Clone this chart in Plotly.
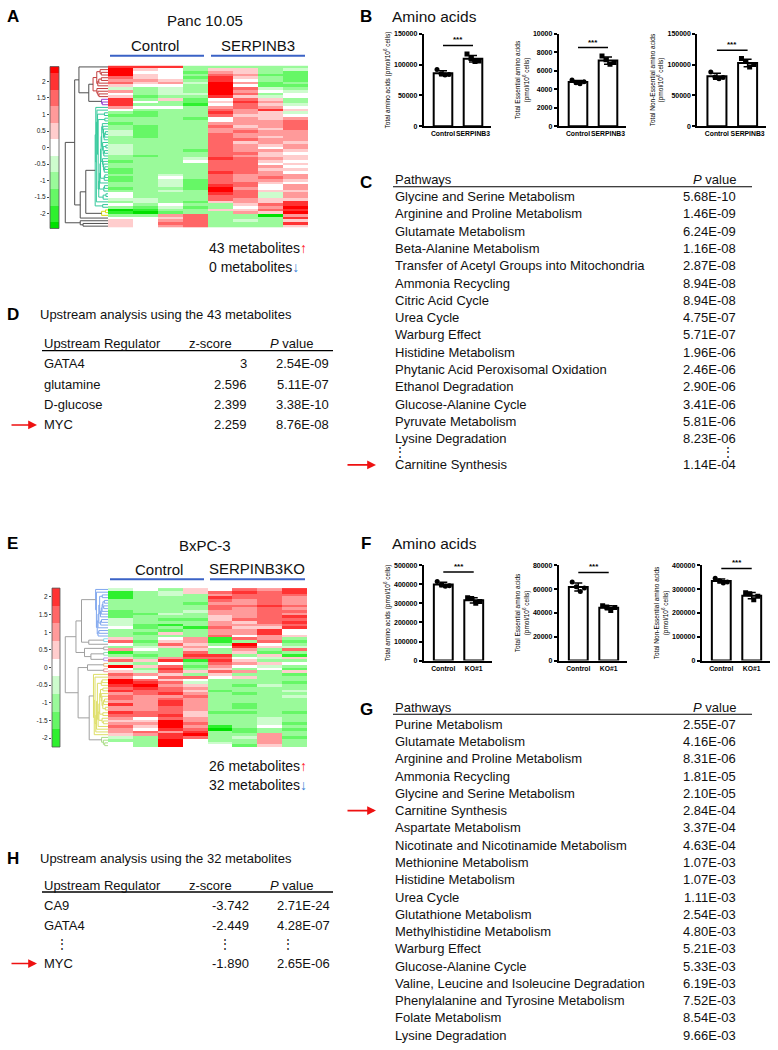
import numpy as np
import plotly.graph_objects as go

W, H = 778, 1050
FONT = "Liberation Sans, Arial, sans-serif"

# ---------------- heatmap z-scores (4 control + 4 test columns) ----------------
panc_z = [
    [2, 2, 2, -1, -1, -1, -1, -1],
    [2.5, 0.5, 0, -1, 0.5, 0.5, -1, -0.5],
    [2.5, 0, 0, -1.5, 1, 0.5, -1, -1.5],
    [2.5, 0.5, 0, -1, 1.5, 1, -1.5, -1.5],
    [1.5, 0.5, 0, -1.5, 2, 0.5, -1, -1.5],
    [1, 1, 0.5, -1, 2, 0, -1, -1.5],
    [1.5, 0.5, 1, -0.5, 2.5, 1, -1.5, -1],
    [0.5, 0, 0, -1, 2.5, 0, -1.5, -1.5],
    [-0.5, -1, -0.5, -1, 2.5, 1.5, -0.5, -1],
    [1, -1, -0.5, -1, 2.5, 1, 0, -0.5],
    [0, -1, -0.5, -0.5, 2.5, 1.5, -1, 0],
    [0.5, -1.5, -1, -1, 2, 0.5, -0.5, 0],
    [2, -1, 0.5, -1.5, 0, 1.5, 0.5, -1],
    [2, 0, -1, -1.5, 0.5, 2, 1, -1],
    [2, -1, -1, -2, 0, 1.5, 0.5, -0.5],
    [1, 0, 0, -1, 1, 1.5, 1, 0],
    [0, -1, -1, -1, 1.5, 1, 2, 0.5],
    [-1, -1.5, -1, -1, 2, 1, 0.5, -0.5],
    [-1.5, -1.5, -1, -1, 1.5, 0.5, 0.5, 0],
    [-1, -1, -1, -1.5, 0, 1, 0.5, 1],
    [-1, -1, -1, -1, 0, 1, 1, 1.5],
    [-1.5, -1, -1, -1, 1, 1, 1, 1.5],
    [-1, -1.5, -1, -1, 1.5, 0.5, 1, 1.5],
    [-1, -1.5, -1, -1, 1, 1, 0.5, 1.5],
    [-0.5, -1.5, -1, -1, 1, 1.5, 1, 1],
    [-0.5, -1.5, -1, -1, 1.5, 1, 1, 1],
    [-1, -1.5, -1, -1, 1.5, 1, 0.5, 1],
    [-1, -1, -1, -1, 1.5, 1.5, 1, 1],
    [-1, -1, -1, -1, 1.5, 0.5, 1, 0.5],
    [-0.5, -1, -1, -1, 1.5, 1, 0.5, 1],
    [-0.5, -1, -1, -1, 1.5, 1, 0, 1],
    [-0.5, -1, -1, -1.5, 1.5, 1, 1, 0.5],
    [-0.5, -1, -1, -1, 1.5, 1.5, 0.5, 0],
    [-1, -1.5, -1, -1, 1.5, 1, 0.5, 0.5],
    [-1, -1, -1, -0.5, 2, 1.5, 1, 0.5],
    [-1.5, -1, -1, 0, 1.5, 1.5, 0.5, 0],
    [-1, -1, -1, -1, 1.5, 1.5, 0, 0.5],
    [-1, -1, -1, -1, 1.5, 1.5, 1, 0],
    [-1.5, -1, -1, -1, 1.5, 1.5, 0.5, 0.5],
    [-1.5, -1, -1, -1, 2, 1.5, 1, 0],
    [-1, -1, -0.5, -1, 1.5, 1, 1, 1],
    [-1.5, -1, 0, -1, 1.5, 1, 1.5, 1],
    [-1.5, -1, -0.5, -1.5, 1.5, 1, 1, 0.5],
    [-1, -1, -0.5, -1.5, 1.5, 1.5, 0.5, 0],
    [-1, -1, -0.5, -1.5, 2, 1.5, 0, 1],
    [-1.5, -1, -1, -1.5, 2.5, 1, 0, 1],
    [-1, -1, -0.5, -1, 2.5, 1.5, 0.5, 0.5],
    [0, -1, -1, -1, 2, 1.5, -0.5, 1],
    [0, -1, -1, -1, 1.5, 1.5, -0.5, 1],
    [-0.5, -0.5, -1, -1, 1.5, 1, 0.5, 0.5],
    [-1, -0.5, -1, -1.5, 0.5, 1, 0.5, 2],
    [0, -1, 0, -1, -1, 0.5, 1.5, 2],
    [-1, -1.5, -0.5, -1.5, -1, 0, 1, 2.5],
    [-2.5, -2, -1, -1, 0.5, 0.5, 1.5, 2],
    [-2, -2.5, -1.5, -1, -1, 1, 0.5, 2.5],
    [-1, -1, 1, 1.5, -1, -1, -2.5, 1],
    [0, 0, 0.5, 1.5, -1, -1, -1, 2],
    [0.5, 0, 1, 1.5, -1, -0.5, -1, 0.5],
    [0.5, 0, 1.5, 1.5, -1, -1, -1, 2],
    [0.5, 0, 1, 1.5, -1, -1, -1, 0.5],
]

bxpc_z = [
    [-0.5, 0, -1, 0.5, 0, 1.5, 1, 2],
    [-2, -1, -0.5, 0.5, 1.5, 2, 1.5, 2],
    [-2, -1, -0.5, -1, 1, 1.5, 1.5, 1.5],
    [-2, -1, -1, -1, 2, 1.5, 1.5, 1],
    [-1, -1, -1, -1, 1.5, 1, 1.5, 1],
    [-1, -1, -1, -1.5, 1, 1, 1.5, 1],
    [-1, -1, -1, -1, 1.5, 1.5, 2, 1.5],
    [-1, -1, -1, -1, 1.5, 1, 1.5, 1],
    [-1.5, -1, -1, -0.5, 1, 1, 1.5, 1.5],
    [-1.5, -1.5, -0.5, -1, 1, 1, 1.5, 1],
    [-1.5, -1, -1, -1, 0.5, 1, 1.5, 2],
    [-0.5, -1, -1.5, -1.5, 0.5, 1.5, 1.5, 1.5],
    [-0.5, -1, -1, -1, 1, 0.5, 1.5, 2],
    [-0.5, -1.5, -2, -1, 1, 1, 1, 1.5],
    [0, -1.5, -1, -2, 1.5, 0.5, 0.5, 2],
    [-1, -1, -1.5, -1, 1, 1, 2, 0],
    [-1, -1.5, 0.5, -1, 1, 1, 2, 0],
    [-1, -1, -1, -1, 1.5, 0, 1, 0.5],
    [0.5, -1, 0, 1, -2, 1.5, 1, -1],
    [1.5, -1.5, 0.5, 1, -2, -1, 1.5, -1.5],
    [0, -1, 1.5, 0.5, -1, 2.5, 0, -1],
    [-1, -0.5, 0.5, 1, 0, 2, 0.5, -0.5],
    [1, 0, -1, 0.5, -1, 1, -1, 1.5],
    [-2, -1, -1, 1.5, -1, 0.5, -1.5, -1],
    [-1, -1.5, -1, 2, 2, -1, 0.5, -2],
    [0.5, -1, 1, 1.5, 1.5, 0, -0.5, 0.5],
    [1.5, 0.5, 2, -2, 2, 0.5, -1, -1],
    [-0.5, -1, 0, -1, 1.5, 1, 0.5, 0],
    [2.5, 0.5, 1.5, -1.5, 1, 0, -0.5, -1],
    [0, -1, 2, -1, 0.5, -1, 0, -1.5],
    [0.5, -0.5, 1.5, 0.5, 1.5, 1, -1, 0.5],
    [1.5, 1, 0.5, -1, 0.5, -1, -1, -1.5],
    [1, 0, 1.5, 1.5, 0, 0.5, -1, -1],
    [2.5, 1.5, 0.5, 0, -1, -1, -1, -1],
    [2.5, 2, 1.5, -0.5, -1, -1, -1, -1.5],
    [2, 2.5, 1, 0.5, -1, -1.5, -0.5, -1],
    [1.5, 2, 1.5, 1, -1, -1, -1, -1],
    [2, 1.5, 1.5, 0.5, -1.5, -1, -1, -0.5],
    [1, 1.5, 2, 1, -1, -1.5, -1, -1],
    [1.5, 1, 1, 1.5, -1, -1, -1, -0.5],
    [1.5, 1, 1.5, 1, -1, -1, -1, -1],
    [1, 1, 2, 1, -1, -1, -1, -1],
    [2, 1, 2, 1, -1, -1.5, -1, -1],
    [1, 1, 1.5, 1, -1, -1.5, -1, -1],
    [1, 1, 1.5, 1, -1, -1, -1, -1],
    [2, 1.5, 1.5, 0.5, -1.5, -1.5, -1, -1.5],
    [1.5, 1.5, 2, 0.5, -1, -1, -1, -1],
    [1, 0, 1.5, 1, -1, -1, -0.5, -1],
    [0.5, 0.5, 2.5, 1, -1, -1, -0.5, -1],
    [1, 1, 2.5, 1.5, -1, -1, -0.5, -1.5],
    [1.5, 0.5, 2.5, 1, -2, -1, 0, -1],
    [1, 0, 2, 1.5, -2.5, -1.5, -1, -1.5],
    [1, 1.5, 1, 2, -1, -1.5, -1, -1],
    [0.5, 1, 2, 2.5, -1, -1, 1, -1],
    [-0.5, -1, 2, 1.5, -1, -0.5, 1, -1.5],
    [-1, -1, 2.5, 0, -1, -1, 1, -1],
    [0, -1, 2.5, 0, -0.5, -1, 1, -1],
    [0, -1, 2.5, 0, 0, -1.5, 0.5, -1],
]

# dendrogram: row clusters (sizes, internal heights) and how they join
panc_group_sizes = [1, 11, 3, 38, 3, 1, 3]
panc_group_heights = [0, 3.5, 1.5, 3.0, 1.5, 0, 6.5]
panc_tree = [10, [7.8, [6.8, 0, [4.5, 1, 2]], [6.5, [5.2, 3, 4], 5]], 6]

bxpc_group_sizes = [18, 2, 1, 2, 2, 2, 2, 2, 23, 4]
bxpc_group_heights = [2.9, 1.0, 0, 1.0, 1.0, 1.0, 1.0, 1.0, 3.4, 1.5]
bxpc_tree = [10, [7.5, [6.2, 0, [4.5, 1, 2]], [5.5, 3, [4.0, 4, 5]]],
             [7.0, [4.8, 6, 7], [4.4, 8, 9]]]

colorbar_levels = [-2.5, -2, -1.5, -1, -0.5, 0, 0.5, 1, 1.5, 2, 2.5]
colorbar_ticks = [-2, -1.5, -1, -0.5, 0, 0.5, 1, 1.5, 2]

# ---------------- amino acid measurements (pmol/10^6 cells) ----------------
b_total_ctrl = [92000, 85000, 83000, 84000]
b_total_serp = [117000, 110000, 105000, 106000]
b_ess_ctrl = [5000, 4700, 4600, 4800]
b_ess_serp = [7600, 7200, 6700, 6900]
b_non_ctrl = [88000, 80000, 77000, 79000]
b_non_serp = [110000, 105000, 96000, 100000]

f_total_ctrl = [415000, 398000, 390000, 392000]
f_total_ko = [330000, 325000, 300000, 310000]
f_ess_ctrl = [66000, 62000, 58000, 61000]
f_ess_ko = [46000, 45000, 42000, 44500]
f_non_ctrl = [345000, 335000, 325000, 330000]
f_non_ko = [285000, 280000, 255000, 270000]

# ---------------- tables ----------------
c_pathways = ["Glycine and Serine Metabolism", "Arginine and Proline Metabolism",
              "Glutamate Metabolism", "Beta-Alanine Metabolism",
              "Transfer of Acetyl Groups into Mitochondria", "Ammonia Recycling",
              "Citric Acid Cycle", "Urea Cycle", "Warburg Effect", "Histidine Metabolism",
              "Phytanic Acid Peroxisomal Oxidation", "Ethanol Degradation",
              "Glucose-Alanine Cycle", "Pyruvate Metabolism", "Lysine Degradation"]
c_pvalues = ["5.68E-10", "1.46E-09", "6.24E-09", "1.16E-08", "2.87E-08", "8.94E-08",
             "8.94E-08", "4.75E-07", "5.71E-07", "1.96E-06", "2.46E-06", "2.90E-06",
             "3.41E-06", "5.81E-06", "8.23E-06"]
c_last = ("Carnitine Synthesis", "1.14E-04")

g_pathways = ["Purine Metabolism", "Glutamate Metabolism", "Arginine and Proline Metabolism",
              "Ammonia Recycling", "Glycine and Serine Metabolism", "Carnitine Synthesis",
              "Aspartate Metabolism", "Nicotinate and Nicotinamide Metabolism",
              "Methionine Metabolism", "Histidine Metabolism", "Urea Cycle",
              "Glutathione Metabolism", "Methylhistidine Metabolism", "Warburg Effect",
              "Glucose-Alanine Cycle", "Valine, Leucine and Isoleucine Degradation",
              "Phenylalanine and Tyrosine Metabolism", "Folate Metabolism", "Lysine Degradation"]
g_pvalues = ["2.55E-07", "4.16E-06", "8.31E-06", "1.81E-05", "2.10E-05", "2.84E-04",
             "3.37E-04", "4.63E-04", "1.07E-03", "1.07E-03", "1.11E-03", "2.54E-03",
             "4.80E-03", "5.21E-03", "5.33E-03", "6.19E-03", "7.52E-03", "8.54E-03",
             "9.66E-03"]

d_regulators = ["GATA4", "glutamine", "D-glucose", "MYC"]
d_zscores = ["3", "2.596", "2.399", "2.259"]
d_pvalues = ["2.54E-09", "5.11E-07", "3.38E-10", "8.76E-08"]

h_regulators = ["CA9", "GATA4", "MYC"]
h_zscores = ["-3.742", "-2.449", "-1.890"]
h_pvalues = ["2.71E-24", "4.28E-07", "2.65E-06"]


def px(x):
    return x / W


def py(y):
    return 1 - y / H


level_colors = ["#00e000", "#2ef02e", "#66f766", "#9afa9a", "#cdfccd", "#ffffff",
                "#ffcdcd", "#ff9a9a", "#ff6666", "#ff3333", "#ff0000"]
scale = []
for i, c in enumerate(level_colors):
    scale += [[i / len(level_colors), c], [(i + 1) / len(level_colors), c]]
ZMIN, ZMAX = -2.75, 2.75


def dendro_lines(z, sizes, heights, tree):
    z = np.asarray(z, dtype=float)
    roots, group_lines = [], []
    start = 0
    for size, hmax in zip(sizes, heights):
        nodes = [[float(i), 0.0, [i]] for i in range(start, start + size)]
        start += size
        lines = []
        while len(nodes) > 1:
            d = [np.linalg.norm(z[a[2]].mean(axis=0) - z[b[2]].mean(axis=0))
                 for a, b in zip(nodes[:-1], nodes[1:])]
            k = int(np.argmin(d))
            a, b = nodes[k], nodes[k + 1]
            h = max(d[k], a[1], b[1]) + 0.2
            lines.append([(a[1], a[0]), (h, a[0]), (h, b[0]), (b[1], b[0])])
            nodes[k:k + 2] = [[(a[0] + b[0]) / 2, h, a[2] + b[2]]]
        top = nodes[0][1]
        s = hmax / top if top > 0 else 0
        group_lines.append([[(hh * s, yy) for hh, yy in ln] for ln in lines])
        roots.append((nodes[0][0], hmax if size > 1 else 0.0))

    top_lines = []

    def link(node):
        if isinstance(node, int):
            return roots[node]
        h, left, right = node
        y1, h1 = link(left)
        y2, h2 = link(right)
        top_lines.append([(h1, y1), (h, y1), (h, y2), (h2, y2)])
        return (y1 + y2) / 2, h

    link(tree)
    return group_lines, top_lines


def line_trace(lines, color, xa, ya, width=1):
    xs, ys = [], []
    for ln in lines:
        for hh, yy in ln:
            xs.append(hh)
            ys.append(yy)
        xs.append(None)
        ys.append(None)
    return go.Scatter(x=xs, y=ys, mode="lines", line=dict(color=color, width=width),
                      xaxis=xa, yaxis=ya, hoverinfo="skip", showlegend=False)


fig = go.Figure()
axes = {}
shapes = []
ann = []


def axname(kind, n):
    return f"{kind}axis" if n == 1 else f"{kind}axis{n}"


def ref(kind, n):
    return kind if n == 1 else f"{kind}{n}"


def text(x, y, s, size=13, anchor="left", bold=False, color="#111"):
    ann.append(dict(x=px(x), y=py(y), xref="paper", yref="paper", text=s, showarrow=False,
                    xanchor=anchor, yanchor="middle",
                    font=dict(size=size, color=color, family=FONT,
                              weight="bold" if bold else "normal")))


def hline(x0, x1, y, color="black", width=1.2):
    shapes.append(dict(type="line", xref="paper", yref="paper", x0=px(x0), x1=px(x1),
                       y0=py(y), y1=py(y), line=dict(color=color, width=width)))


def red_arrow(x0, x1, y):
    ann.append(dict(x=px(x1), y=py(y), xref="paper", yref="paper", text="", showarrow=True,
                    ax=x0 - x1, ay=0, arrowcolor="#ee1111", arrowwidth=1.6, arrowhead=2,
                    arrowsize=1.1))


# ---------------- heatmap panels ----------------
heat_specs = [
    (panc_z, panc_group_sizes, panc_group_heights, panc_tree, 1, (108, 308), (62, 225),
     (50, 59), (63, 226), 2.45,
     ["#505050", "#c43c3c", "#9a3fd0", "#35c99c", "#dcdc10", "#3f6fd0", "#505050"], "#505050"),
    (bxpc_z, bxpc_group_sizes, bxpc_group_heights, bxpc_tree, 4, (108, 307), (588, 748),
     (52, 60), (588, 748), 2.25,
     ["#7fa6ee", "#88ddee", "#ee99cc", "#aaaaaa", "#99ddbb", "#bb99ee", "#eebb77",
      "#ee9999", "#dede66", "#aadd88"], "#a0a0a0"),
]

for z, sizes, heights, tree, n, hx, hy, cx, cy, crange, gcolors, gray in heat_specs:
    nrow = len(z)
    fig.add_trace(go.Heatmap(z=z, x=list(range(8)), y=list(range(nrow)), colorscale=scale,
                             zmin=ZMIN, zmax=ZMAX, showscale=False, hoverinfo="skip",
                             xaxis=ref("x", n), yaxis=ref("y", n)))
    axes[axname("x", n)] = dict(domain=[px(hx[0]), px(hx[1])], range=[-0.5, 7.5],
                                visible=False, anchor=ref("y", n))
    axes[axname("y", n)] = dict(domain=[py(hy[1]), py(hy[0])], range=[nrow - 0.5, -0.5],
                                visible=False, anchor=ref("x", n))
    # colour key
    fig.add_trace(go.Heatmap(z=[[v] for v in colorbar_levels], x=[0], y=colorbar_levels,
                             colorscale=scale, zmin=ZMIN, zmax=ZMAX, showscale=False,
                             hoverinfo="skip", xaxis=ref("x", n + 1), yaxis=ref("y", n + 1)))
    axes[axname("x", n + 1)] = dict(domain=[px(cx[0]), px(cx[1])], range=[-0.5, 0.5],
                                    visible=False, anchor=ref("y", n + 1))
    axes[axname("y", n + 1)] = dict(domain=[py(cy[1]), py(cy[0])], range=[-crange, crange],
                                    anchor=ref("x", n + 1), side="left", showgrid=False,
                                    zeroline=False, showline=False, ticks="outside", ticklen=2,
                                    tickwidth=0.8, tickcolor="#444",
                                    tickvals=colorbar_ticks,
                                    ticktext=[f"{v:g}" for v in colorbar_ticks],
                                    tickfont=dict(size=6.5, color="#222", family=FONT))
    shapes.append(dict(type="rect", xref="paper", yref="paper", x0=px(cx[0]), x1=px(cx[1]),
                       y0=py(cy[1]), y1=py(cy[0]), line=dict(color="#555", width=0.8)))
    # dendrogram
    glines, tlines = dendro_lines(z, sizes, heights, tree)
    for lines, col in zip(glines, gcolors):
        if lines:
            fig.add_trace(line_trace(lines, col, ref("x", n + 2), ref("y", n)))
    fig.add_trace(line_trace(tlines, gray, ref("x", n + 2), ref("y", n)))
    axes[axname("x", n + 2)] = dict(domain=[px(64), px(108)], range=[10.3, 0], visible=False,
                                    anchor=ref("y", n))

# ---------------- bar panels ----------------
bar_data = [
    (b_total_ctrl, b_total_serp, ["Control", "SERPINB3"],
     "Total amino acids (pmol/10<sup>6</sup> cells)"),
    (b_ess_ctrl, b_ess_serp, ["Control", "SERPINB3"],
     "Total Essential amino acids<br>(pmol/10<sup>6</sup> cells)"),
    (b_non_ctrl, b_non_serp, ["Control", "SERPINB3"],
     "Total Non-Essential amino acids<br>(pmol/10<sup>6</sup> cells)"),
    (f_total_ctrl, f_total_ko, ["Control", "KO#1"],
     "Total amino acids (pmol/10<sup>6</sup> cells)"),
    (f_ess_ctrl, f_ess_ko, ["Control", "KO#1"],
     "Total Essential amino acids<br>(pmol/10<sup>6</sup> cells)"),
    (f_non_ctrl, f_non_ko, ["Control", "KO#1"],
     "Total Non-Essential amino acids<br>(pmol/10<sup>6</sup> cells)"),
]
bar_layout = [
    # axis number, x domain px, y domain px (top, bottom), y max, tick step
    (7, (423.5, 491), (30, 123), 150000, 50000),
    (8, (558.5, 626), (30, 123), 10000, 2000),
    (9, (697, 766), (30, 123), 150000, 50000),
    (10, (423.5, 492), (565, 661), 500000, 100000),
    (11, (558.5, 627), (565, 661), 80000, 20000),
    (12, (701.5, 770), (565, 661), 400000, 100000),
]
offsets = np.linspace(-0.2, 0.2, 4)

for (ctrl, test, labels, ytitle), (n, xd, yd, ymax, step) in zip(bar_data, bar_layout):
    xa, ya = ref("x", n), ref("y", n)
    means = [np.mean(ctrl), np.mean(test)]
    sds = [np.std(ctrl, ddof=1), np.std(test, ddof=1)]
    fig.add_trace(go.Bar(x=[0, 1], y=means, width=0.62,
                         marker=dict(color="white", line=dict(color="black", width=2)),
                         error_y=dict(type="data", array=sds, color="black", thickness=1.5,
                                      width=4),
                         xaxis=xa, yaxis=ya, showlegend=False, hoverinfo="skip"))
    for k, (vals, sym) in enumerate([(ctrl, "circle"), (test, "square")]):
        fig.add_trace(go.Scatter(x=k + offsets, y=vals, mode="markers",
                                 marker=dict(symbol=sym, size=5, color="black"),
                                 xaxis=xa, yaxis=ya, showlegend=False, hoverinfo="skip"))
    sig = max(max(ctrl), max(test)) * 1.12
    shapes.append(dict(type="line", xref=xa, yref=ya, x0=0, x1=1, y0=sig, y1=sig,
                       line=dict(color="black", width=1.4)))
    ann.append(dict(x=0.5, y=sig, xref=xa, yref=ya, text="***", showarrow=False,
                    yanchor="bottom", yshift=-1,
                    font=dict(size=8, color="black", family=FONT, weight="bold")))
    axes[axname("x", n)] = dict(domain=[px(xd[0]), px(xd[1])], range=[-0.65, 1.6],
                                anchor=ya, showline=True, linecolor="black", linewidth=1.5,
                                showgrid=False, zeroline=False, ticks="",
                                tickvals=[0, 1], ticktext=labels, tickangle=0,
                                tickfont=dict(size=6.8, color="black", family=FONT,
                                              weight="bold"))
    axes[axname("y", n)] = dict(domain=[py(yd[1]), py(yd[0])], range=[0, ymax], dtick=step,
                                tickformat="d", anchor=xa, showline=True, linecolor="black",
                                linewidth=1.5, showgrid=False, zeroline=False,
                                ticks="outside", ticklen=3, tickwidth=1.5, tickcolor="black",
                                tickfont=dict(size=7, color="black", family=FONT,
                                              weight="bold"),
                                title=dict(text=ytitle, standoff=3,
                                           font=dict(size=6.5, color="black", family=FONT)))

# ---------------- text ----------------
for letter, x, y in [("A", 13, 13), ("B", 366, 13), ("C", 366, 180), ("D", 13, 313),
                     ("E", 13, 543), ("F", 366, 543), ("G", 366, 710), ("H", 13, 860)]:
    text(x, y, letter, size=17, anchor="center", bold=True, color="black")

text(205, 17, "Panc 10.05", size=15, anchor="center")
text(155, 42, "Control", size=15, anchor="center")
text(258, 42, "SERPINB3", size=15, anchor="center")
hline(110, 204, 52, color="#3a62c6", width=2)
hline(211, 305, 52, color="#3a62c6", width=2)
text(207, 246, "43 metabolites<span style='color:#ff2020'>↑</span>", size=14)
text(207, 265, "0 metabolites<span style='color:#3a7fd5'>↓</span>", size=14)

text(205, 545, "BxPC-3", size=15, anchor="center")
text(159, 569, "Control", size=15, anchor="center")
text(257, 568, "SERPINB3KO", size=15, anchor="center")
hline(110, 204, 579, color="#3a62c6", width=2)
hline(210, 305, 579, color="#3a62c6", width=2)
text(207, 767, "26 metabolites<span style='color:#ff2020'>↑</span>", size=14)
text(207, 786, "32 metabolites<span style='color:#3a7fd5'>↓</span>", size=14)

text(390, 13, "Amino acids", size=15.5)
text(390, 543, "Amino acids", size=15.5)

ROW = 17.4
# table C
text(393, 177, "Pathways", size=13)
text(738, 177, "<i>P</i> value", size=13, anchor="right")
hline(393, 752, 184)
for i, (name, p) in enumerate(zip(c_pathways, c_pvalues)):
    text(393, 194 + i * ROW, name, size=13)
    text(738, 194 + i * ROW, p, size=13, anchor="right")
text(400, 451, "⋮", size=12, anchor="center")
text(728, 451, "⋮", size=12, anchor="center")
text(393, 464, c_last[0], size=13)
text(738, 464, c_last[1], size=13, anchor="right")
red_arrow(346, 376, 464)

# table G
text(393, 708, "Pathways", size=13)
text(738, 708, "<i>P</i> value", size=13, anchor="right")
hline(393, 752, 715)
for i, (name, p) in enumerate(zip(g_pathways, g_pvalues)):
    yy = 725 + i * ROW
    text(393, yy, name, size=13)
    text(738, yy, p, size=13, anchor="right")
    if name == "Carnitine Synthesis":
        red_arrow(346, 376, yy)

# table D
text(38, 313, "Upstream analysis using the 43 metabolites", size=13)
text(42, 342, "Upstream Regulator", size=13)
text(210, 342, "z-score", size=13, anchor="center")
text(291, 342, "<i>P</i> value", size=13, anchor="center")
hline(42, 333, 349, width=1.4)
for i, (r, zs, p) in enumerate(zip(d_regulators, d_zscores, d_pvalues)):
    yy = 362 + i * 20.6
    text(42, yy, r, size=13)
    text(249, yy, zs, size=13, anchor="right")
    text(331, yy, p, size=13, anchor="right")
    if r == "MYC":
        red_arrow(10, 37, yy)

# table H
text(38, 860, "Upstream analysis using the 32 metabolites", size=13)
text(42, 887, "Upstream Regulator", size=13)
text(210, 887, "z-score", size=13, anchor="center")
text(291, 887, "<i>P</i> value", size=13, anchor="center")
hline(42, 333, 894, width=1.4)
h_rows_y = [908, 928, 966]
for r, zs, p, yy in zip(h_regulators, h_zscores, h_pvalues, h_rows_y):
    text(42, yy, r, size=13)
    text(251, yy, zs, size=13, anchor="right")
    text(332, yy, p, size=13, anchor="right")
    if r == "MYC":
        red_arrow(10, 37, yy)
for x in (62, 225, 288):
    text(x, 946, "⋮", size=12, anchor="center")

fig.update_layout(width=W, height=H, margin=dict(l=0, r=0, t=0, b=0),
                  paper_bgcolor="white", plot_bgcolor="white",
                  font=dict(family=FONT, color="#111"), showlegend=False,
                  annotations=ann, shapes=shapes, **axes)

# drop the browser's default page margin so the figure sits at the window origin
fig.write_html("out.html", config={"displayModeBar": False},
               post_script="document.body.style.margin = '0';")
